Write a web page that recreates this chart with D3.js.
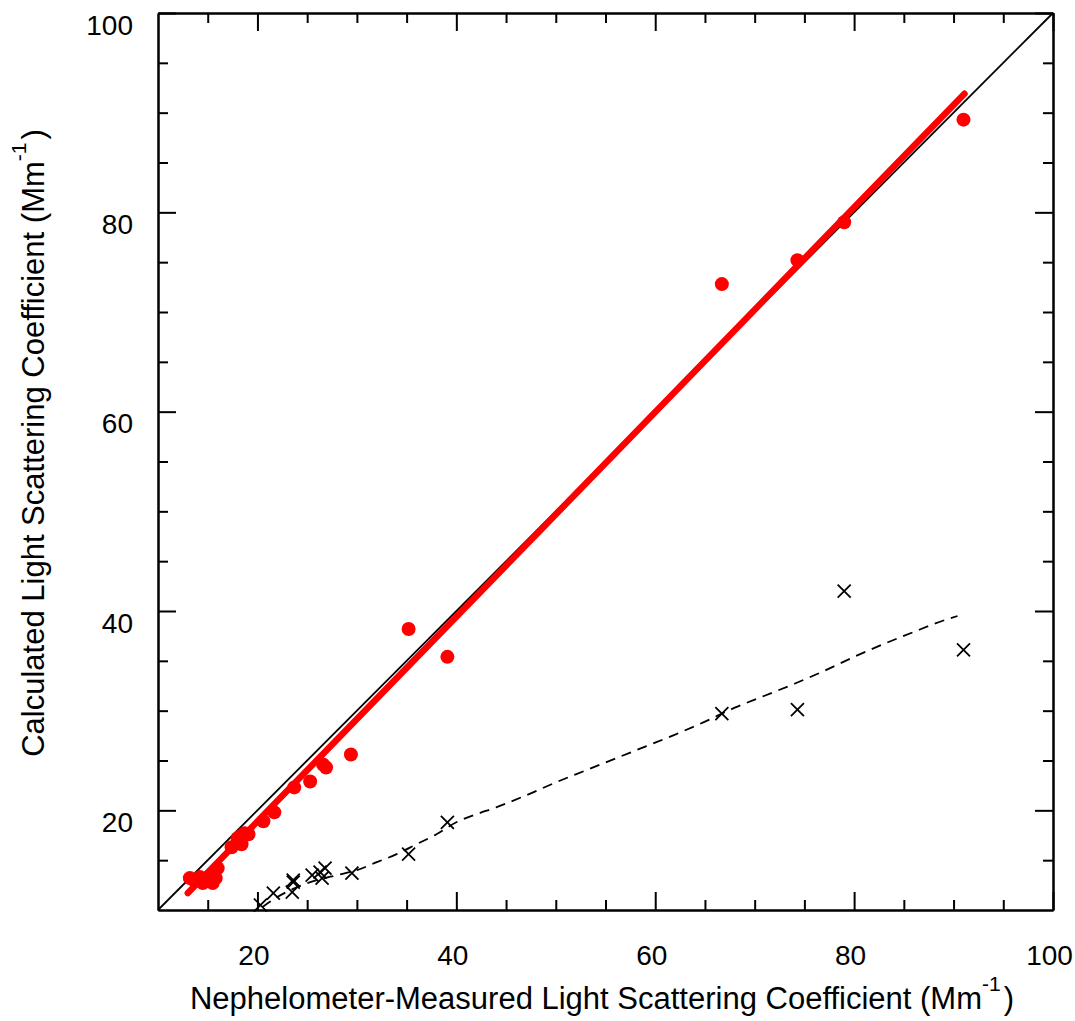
<!DOCTYPE html>
<html><head><meta charset="utf-8">
<script src="https://cdn.jsdelivr.net/npm/d3@7"></script>
<style>
body{margin:0;background:#fff}
text{font-family:"Liberation Sans",Arial,Helvetica,sans-serif;fill:#000}
</style>
</head><body>
<svg id="chart" width="1075" height="1021"></svg>
<script>
// ---- data ----
const calcX = [91.0, 79.0, 74.3, 66.7, 35.2, 39.1, 29.4, 26.6, 26.9, 25.3, 23.7, 21.7, 20.6, 19.1, 18.3, 18.4, 17.4, 18.0, 18.7, 16.0, 15.8, 15.7, 15.2, 15.5, 15.0, 14.5, 14.2, 13.6, 13.2];
const calcY = [89.3, 79.0, 75.2, 72.8, 38.2, 35.4, 25.6, 24.6, 24.3, 22.9, 22.3, 19.8, 18.9, 17.6, 17.4, 16.6, 16.3, 17.2, 17.7, 14.2, 13.2, 13.7, 13.4, 12.7, 13.2, 12.7, 13.3, 13.0, 13.2];

const crossX = [91.0, 79.0, 74.3, 66.7, 39.1, 35.2, 29.5, 26.8, 26.5, 26.3, 25.5, 23.6, 23.6, 23.5, 21.6, 20.3];
const crossY = [36.1, 42.0, 30.1, 29.7, 18.8, 15.6, 13.7, 14.2, 13.2, 13.8, 13.5, 12.8, 13.0, 11.8, 11.7, 10.5];

const smoothX = [20.5, 22, 24, 26, 28, 30, 32, 34, 36, 38, 40, 42, 44, 47, 50, 53, 56, 59, 62, 65, 68, 71, 74, 77, 80, 83, 86, 88, 90.4];
const smoothY = [10.3, 11.3, 12.3, 13.0, 13.5, 14.0, 14.8, 15.6, 16.6, 17.6, 18.8, 19.6, 20.3, 21.5, 22.8, 24.0, 25.2, 26.4, 27.6, 28.9, 30.3, 31.5, 32.7, 34.0, 35.4, 36.7, 37.9, 38.7, 39.5];

const fitX = [13.0, 91.1];
const fitY = [11.7, 91.9];

const identityX = [10, 100];
const identityY = [10, 100];

const majorTicks = [20, 40, 60, 80, 100];
const minorTicks = [15, 25, 30, 35, 45, 50, 55, 65, 70, 75, 85, 90, 95];

const xTitle = "Nephelometer-Measured Light Scattering Coefficient (Mm";
const yTitle = "Calculated Light Scattering Coefficient (Mm";
const unitSup = "-1";

// ---- layout ----
const L = 158, R = 1053, T = 13, B = 910;
const svg = d3.select("#chart");
const x = d3.scaleLinear().domain([10, 100]).range([L, R]);
const y = d3.scaleLinear().domain([10, 100]).range([B, T]);

const FONT = 28;
const TFONT = 31;

function styleAxis(g) {
  g.selectAll("path.domain").attr("stroke", "#000").attr("stroke-width", 2);
  g.selectAll(".tick line").attr("stroke", "#000").attr("stroke-width", 2);
}

// bottom
const gB = svg.append("g").attr("transform", `translate(0,${B})`);
gB.call(d3.axisBottom(x).tickValues(majorTicks).tickSizeInner(-18).tickSizeOuter(0).tickFormat(d3.format("d")));
gB.selectAll(".tick text").attr("y", 55).attr("dy", 0).attr("x", -4)
  .style("font-size", FONT + "px").style("font-family", '"Liberation Sans",Arial,sans-serif');
styleAxis(gB);
const gBm = svg.append("g").attr("transform", `translate(0,${B})`);
gBm.call(d3.axisBottom(x).tickValues(minorTicks).tickSizeInner(-10).tickSizeOuter(0).tickFormat(""));
styleAxis(gBm);

// top
const gT = svg.append("g").attr("transform", `translate(0,${T})`);
gT.call(d3.axisTop(x).tickValues(majorTicks).tickSizeInner(-18).tickSizeOuter(0).tickFormat(""));
styleAxis(gT);
const gTm = svg.append("g").attr("transform", `translate(0,${T})`);
gTm.call(d3.axisTop(x).tickValues(minorTicks).tickSizeInner(-10).tickSizeOuter(0).tickFormat(""));
styleAxis(gTm);

// left
const gL = svg.append("g").attr("transform", `translate(${L},0)`);
gL.call(d3.axisLeft(y).tickValues(majorTicks).tickSizeInner(-18).tickSizeOuter(0).tickFormat(d3.format("d")));
gL.selectAll(".tick text").attr("x", -25).attr("dy", 0).attr("y", 21)
  .style("font-size", FONT + "px").style("font-family", '"Liberation Sans",Arial,sans-serif');
styleAxis(gL);
const gLm = svg.append("g").attr("transform", `translate(${L},0)`);
gLm.call(d3.axisLeft(y).tickValues(minorTicks).tickSizeInner(-10).tickSizeOuter(0).tickFormat(""));
styleAxis(gLm);

// right
const gR = svg.append("g").attr("transform", `translate(${R},0)`);
gR.call(d3.axisRight(y).tickValues(majorTicks).tickSizeInner(-18).tickSizeOuter(0).tickFormat(""));
styleAxis(gR);
const gRm = svg.append("g").attr("transform", `translate(${R},0)`);
gRm.call(d3.axisRight(y).tickValues(minorTicks).tickSizeInner(-10).tickSizeOuter(0).tickFormat(""));
styleAxis(gRm);

// ---- marks ----
const line = d3.line().x(d => x(d[0])).y(d => y(d[1]));

// 1:1 line
svg.append("path")
  .datum(d3.zip(identityX, identityY))
  .attr("d", line).attr("fill", "none").attr("stroke", "#000").attr("stroke-width", 1.8);

// dashed smooth line
svg.append("path")
  .datum(d3.zip(smoothX, smoothY))
  .attr("d", d3.line().x(d => x(d[0])).y(d => y(d[1])).curve(d3.curveMonotoneX))
  .attr("fill", "none").attr("stroke", "#000").attr("stroke-width", 1.8)
  .attr("stroke-dasharray", "10,7");

// crosses
const cs = 6.5;
svg.append("g").selectAll("path.cross")
  .data(d3.zip(crossX, crossY))
  .join("path")
  .attr("class", "cross")
  .attr("d", d => {
    const cx = x(d[0]), cy = y(d[1]);
    return `M${cx - cs},${cy - cs}L${cx + cs},${cy + cs}M${cx - cs},${cy + cs}L${cx + cs},${cy - cs}`;
  })
  .attr("stroke", "#000").attr("stroke-width", 1.8).attr("fill", "none");

// red fit line
svg.append("path")
  .datum(d3.zip(fitX, fitY))
  .attr("d", line).attr("fill", "none").attr("stroke", "#ff0000")
  .attr("stroke-width", 6.5).attr("stroke-linecap", "round");

// red points
svg.append("g").selectAll("circle")
  .data(d3.zip(calcX, calcY))
  .join("circle")
  .attr("cx", d => x(d[0])).attr("cy", d => y(d[1])).attr("r", 7)
  .attr("fill", "#ff0000");

// ---- titles ----
const xt = svg.append("text")
  .attr("x", 602).attr("y", 1009)
  .attr("text-anchor", "middle")
  .style("font-size", TFONT + "px");
xt.append("tspan").text(xTitle);
xt.append("tspan").text(unitSup).attr("dy", -18).style("font-size", "21px");
xt.append("tspan").text(")").attr("dy", 18).attr("dx", 3);

const yt = svg.append("text")
  .attr("transform", "translate(44,443) rotate(-90)")
  .attr("text-anchor", "middle")
  .style("font-size", TFONT + "px");
yt.append("tspan").text(yTitle);
yt.append("tspan").text(unitSup).attr("dy", -18).style("font-size", "21px");
yt.append("tspan").text(")").attr("dy", 18).attr("dx", 3);
</script>
</body></html>
